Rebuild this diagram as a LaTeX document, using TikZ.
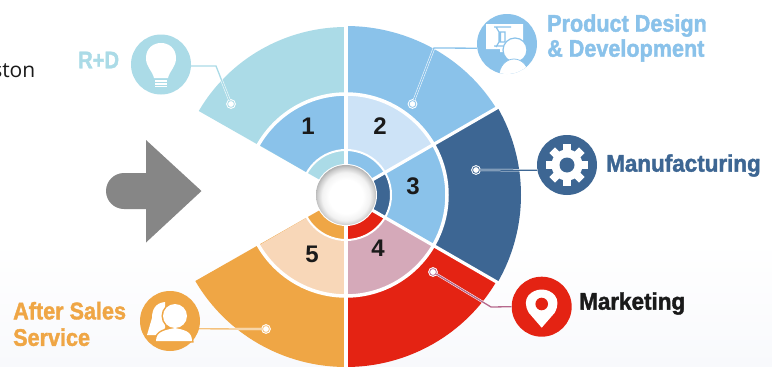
\documentclass[tikz,border=0pt]{standalone}
\usepackage{fontspec}
\setmainfont{Liberation Sans}
\newfontfamily\headfont[UprightFont=* Bold,FakeStretch=0.9,FakeBold=1.6]{Liberation Sans}
\newfontfamily\headwide[UprightFont=* Bold,FakeStretch=0.935,FakeBold=1.6]{Liberation Sans}
\newfontfamily\headtight[UprightFont=* Bold,FakeStretch=0.84,FakeBold=1.6]{Liberation Sans}
\newfontfamily\numfont[UprightFont=* Bold]{Liberation Sans}
\newfontfamily\bodyfont{Open Sans}
\usetikzlibrary{calc}
\definecolor{cPale}{HTML}{ABDBE7}
\definecolor{cSky}{HTML}{8AC2EA}
\definecolor{cLight}{HTML}{CDE3F7}
\definecolor{cNavy}{HTML}{3D6693}
\definecolor{cRed}{HTML}{E42313}
\definecolor{cMauve}{HTML}{D5A9B9}
\definecolor{cOrange}{HTML}{EFA645}
\definecolor{cPeach}{HTML}{F8D7B8}
\definecolor{cInk}{HTML}{1A1A1A}
\definecolor{cBack}{HTML}{F8F9FC}
\definecolor{cLink}{HTML}{B5688D}
\definecolor{cGreyArrow}{HTML}{868686}
\pgfdeclareradialshading{hubball}{\pgfpoint{0bp}{-1.5bp}}{
  color(0bp)=(white); color(14bp)=(white); color(20bp)=(black!5); color(24bp)=(black!20); color(27.5bp)=(black!38); color(100bp)=(black!38)}
\tikzset{
  iconball/.style={circle,inner sep=0pt,minimum size=60pt,fill=#1},
  ringdot/.style={circle,inner sep=0pt,minimum size=6.8pt,fill=white,draw=white,line width=1pt,double=#1,double distance=0.75pt},
  linkline/.style={draw=white,line width=0.5pt,double=#1,double distance=1.3pt},
  headlabel/.style={anchor=west,inner sep=0pt,align=left,text=#1,font=\headfont\fontsize{24}{25}\selectfont},
  numlabel/.style={inner sep=0pt,text=cInk,font=\numfont\fontsize{24}{24}\selectfont},
}
% start, end, outer x radius, outer y radius, inner radius, colour
\newcommand{\ringseg}[6]{\fill[#6] (#1:#3pt and #4pt) arc[start angle=#1,end angle=#2,x radius=#3pt,y radius=#4pt] -- (#2:#5pt) arc[start angle=#2,end angle=#1,radius=#5pt] -- cycle;}
\begin{document}
\begin{tikzpicture}[x=1pt,y=-1pt]
\useasboundingbox (0,0) rectangle (772,367);
\clip (0,0) rectangle (772,367);
\fill[white] (0,0) rectangle (772,367);
\shade[top color=white,bottom color=cBack] (0,240) rectangle (772,367);
% arrow
\fill[cGreyArrow] (201.5,191) -- (146,140) -- (146,173) -- (124,173)
  arc[start angle=-90,end angle=-270,radius=18] -- (146,209) -- (146,242.5) -- cycle;
% wheel
\begin{scope}[shift={(346,195)},y=1pt]
  \ringseg{90}{150}{170}{168}{30}{cPale}
  \ringseg{30}{90}{175}{169}{30}{cSky}
  \ringseg{-30}{30}{175}{175}{30}{cNavy}
  \ringseg{-90}{-30}{174}{172}{30}{cRed}
  \ringseg{-150}{-90}{174}{172}{30}{cOrange}
  \ringseg{90}{150}{100}{100}{45}{cSky}
  \ringseg{30}{90}{100}{100}{45}{cLight}
  \ringseg{-30}{30}{100}{100}{45}{cSky}
  \ringseg{-90}{-30}{100}{100}{45}{cMauve}
  \ringseg{-150}{-90}{100}{100}{45}{cPeach}
  \draw[white,line width=3.5pt] (0,0) circle[radius=101pt];
  \draw[white,line width=2pt] (0,0) circle[radius=45pt];
  \foreach \a in {90,30,-30,-90} \draw[white,line width=3.2pt] (\a:25pt) -- (\a:178pt);
  \fill[white] (0,0) circle[radius=31pt];
  \shade[shading=hubball] (0,0) circle[radius=30pt];
\end{scope}
% numbers
\node[numlabel] (n1) at (308,126) {1};
\node[numlabel] (n2) at (380,126) {2};
\node[numlabel] (n3) at (413,186) {3};
\node[numlabel] (n4) at (378,248) {4};
\node[numlabel] (n5) at (312,254) {5};
% icon discs
\node[iconball=cPale] (rd) at (161,64.5) {};
\node[iconball=cSky] (pd) at (507,44) {};
\node[iconball=cNavy] (mf) at (567,165) {};
\node[iconball=cRed] (mk) at (541.7,306.7) {};
\node[iconball=cOrange] (as) at (170,321) {};
% ring dots
\node[ringdot=cPale] (drd) at (231,104) {};
\node[ringdot=cSky] (dpd) at (412.5,104) {};
\node[ringdot=cNavy] (dmf) at (476,170) {};
\node[ringdot=cLink] (dmk) at (433,272) {};
\node[ringdot=cOrange!70] (das) at (266,329) {};
% elbows
\coordinate (erd) at (216,66);
\coordinate (epd) at (434,48);
\coordinate (emk) at (491,307);
% connectors
\draw[linkline=cPale] (drd) -- (erd) -- (rd.-3);
\draw[linkline=cSky] (dpd) -- (epd) -- (pd.188);
\draw[linkline=cNavy] (dmf) -- (mf.190);
\draw[linkline=cLink] (dmk) -- (emk) -- (mk.180);
\draw[linkline=cOrange!70] (das) -- (as.-15.5);
% bulb
\fill[white] (154,78) .. controls (152,70) and (146,67) .. (146,58) .. controls (146,38) and (176,38) .. (176,58) .. controls (176,67) and (170,70) .. (168,78) -- cycle;
\foreach \yy in {81,84,86.5} \draw[white,line width=1.1pt] (155,\yy) -- (167,\yy);
% product design icon
\begin{scope}
  \clip (507,44) circle[radius=30pt];
  \fill[white] (486,24) -- (523,24) -- (523,52) -- (500,52) -- (500,49) -- (486,49) -- cycle;
  \draw[cSky,line width=1.2pt] (494,27) -- (511,27) (496,27) -- (499,32) -- (499,42) -- (496,47) (500.5,32) rectangle (505,42) (494,46) -- (503,46);
  \filldraw[fill=white,draw=cSky,line width=1.2pt] (515,50) circle[radius=12pt];
  \filldraw[fill=white,draw=cSky,line width=0.8pt] (514,76) ellipse[x radius=15pt,y radius=17pt];
\end{scope}
% gear
\fill[white] (567,165) circle[radius=15.5pt];
\foreach \a in {0,45,...,315} \draw[white,line width=8pt] ($(567,165)+(\a:13pt)$) -- ($(567,165)+(\a:21pt)$);
\fill[cNavy] (567,165) circle[radius=7.5pt];
% pin
\fill[white] (541.7,327.7) -- (529,313) .. controls (520,298) and (532,289.5) .. (541.7,289.5) .. controls (551.5,289.5) and (563,298) .. (554.5,313) -- cycle;
\fill[cRed] (541.7,304) circle[radius=6.3pt];
% people
\fill[white] (165,302) .. controls (155,303) and (152,310) .. (152,318) -- (147,335) -- (160,335) -- (165,328) -- cycle;
\draw[cOrange,line width=3pt] (175,316) circle[radius=12pt];
\draw[cOrange,line width=3pt] (156,341) .. controls (156,331) and (166,330) .. (175,328) .. controls (184,330) and (192,331) .. (192,341) -- cycle;
\fill[white] (175,316) circle[radius=12pt];
\fill[white] (156,341) .. controls (156,331) and (166,330) .. (175,328) .. controls (184,330) and (192,331) .. (192,341) -- cycle;
% labels
\node[headlabel=cPale,font=\headtight\fontsize{24}{25}\selectfont] (lrd) at (78,60) {R+D};
\node[headlabel=cSky] (lpd) at (547,38) {Product Design\\\& Development};
\node[headlabel=cNavy,font=\headwide\fontsize{24}{25}\selectfont] (lmf) at (606,165.5) {Manufacturing};
\node[headlabel=cInk,font=\headwide\fontsize{24}{25}\selectfont] (lmk) at (579,303.5) {Marketing};
\node[headlabel=cOrange,font=\headfont\fontsize{24}{26.5}\selectfont] (las) at (13,324) {After Sales\\Service};
\node[anchor=base east,inner sep=0pt,text=cInk,font=\bodyfont\fontsize{21}{21}\selectfont] (frag) at (35.5,77) {ston};
\end{tikzpicture}
\end{document}
